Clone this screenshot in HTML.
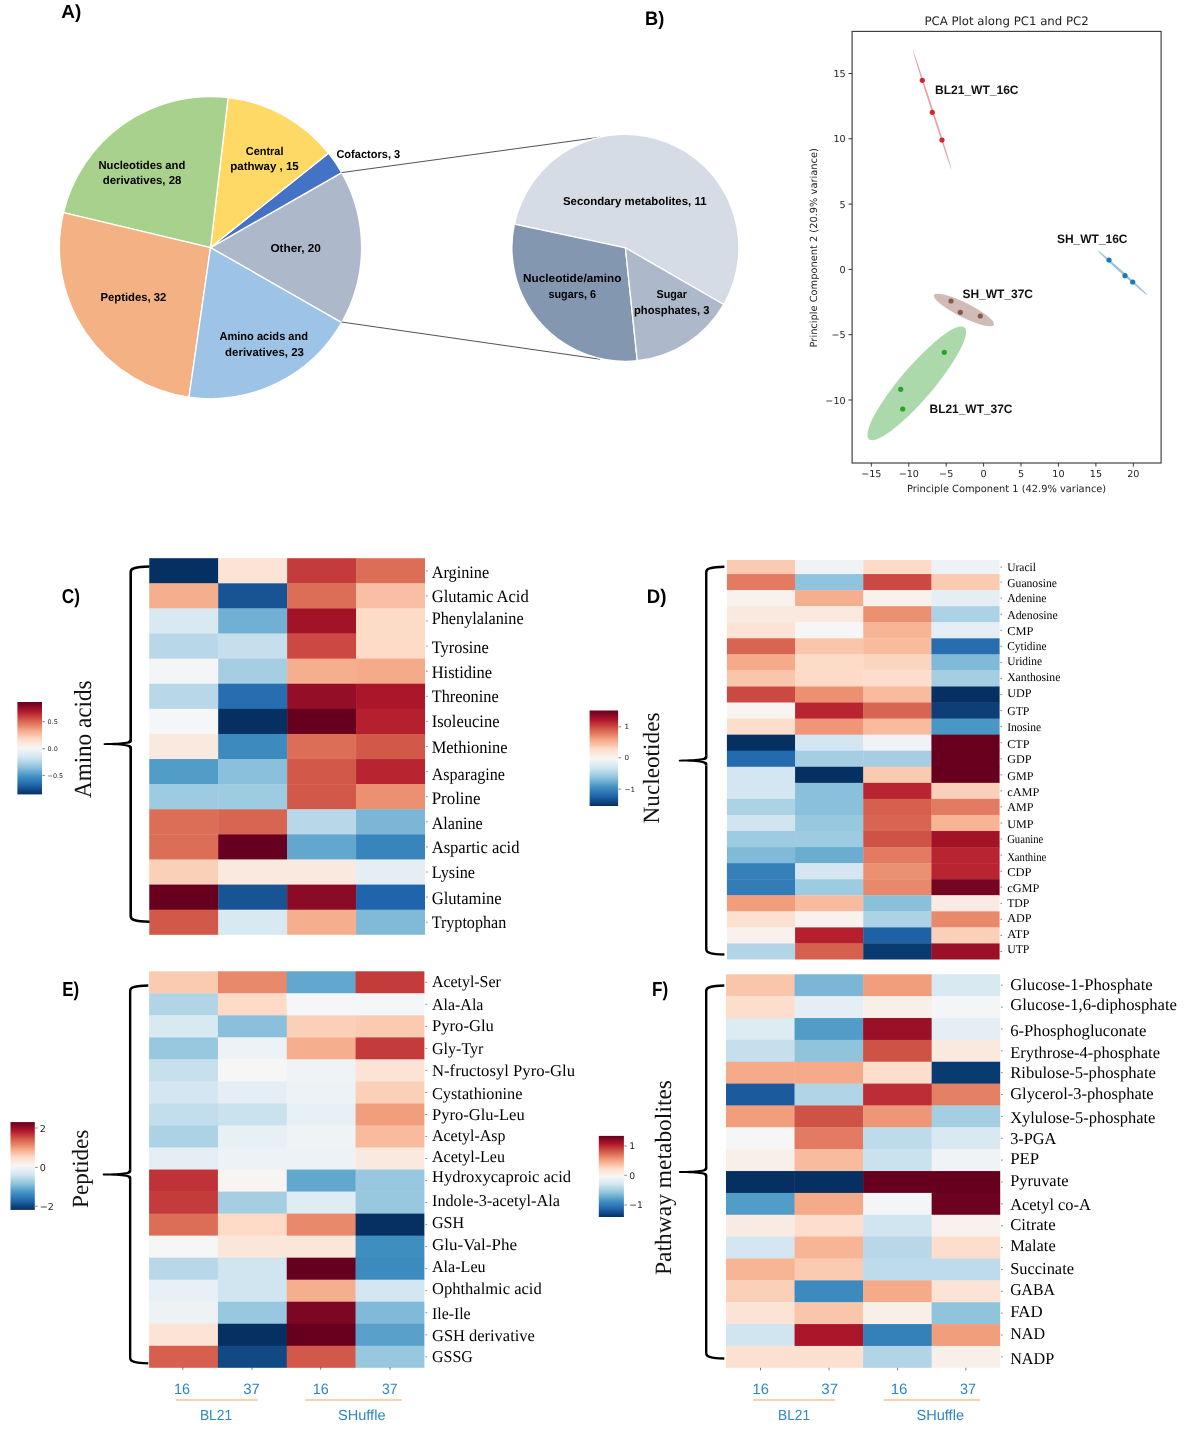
<!DOCTYPE html>
<html lang="en">
<head>
<meta charset="utf-8">
<title>Metabolomics figure</title>
<style>
html,body{margin:0;padding:0;background:#fff;}
body{width:1200px;height:1433px;overflow:hidden;font-family:'Liberation Sans',sans-serif;}
svg{display:block;will-change:transform;transform:translateZ(0);}
text{text-rendering:geometricPrecision;}
</style>
</head>
<body>
<svg width="1200" height="1433" viewBox="0 0 1200 1433">
<rect x="0" y="0" width="1200" height="1433" fill="#ffffff"/>
<g id="panelA">
<text x="61.3" y="17.8" font-family="'Liberation Sans', sans-serif" font-size="19" font-weight="bold" fill="#000" text-anchor="start" textLength="20.0" lengthAdjust="spacingAndGlyphs">A)</text>
<path d="M210.50,247.60 L341.68,322.58 A151.10,151.10 0 0 0 341.68,172.62 Z" fill="#adb9ca" stroke="#fff" stroke-width="1.3" stroke-linejoin="round"/>
<path d="M210.50,247.60 L341.68,172.62 A151.10,151.10 0 0 0 328.46,153.17 Z" fill="#4472c4" stroke="#fff" stroke-width="1.3" stroke-linejoin="round"/>
<path d="M210.50,247.60 L328.46,153.17 A151.10,151.10 0 0 0 228.11,97.53 Z" fill="#ffd966" stroke="#fff" stroke-width="1.3" stroke-linejoin="round"/>
<path d="M210.50,247.60 L228.11,97.53 A151.10,151.10 0 0 0 63.51,212.61 Z" fill="#a9d18e" stroke="#fff" stroke-width="1.3" stroke-linejoin="round"/>
<path d="M210.50,247.60 L63.51,212.61 A151.10,151.10 0 0 0 189.00,397.16 Z" fill="#f4b183" stroke="#fff" stroke-width="1.3" stroke-linejoin="round"/>
<path d="M210.50,247.60 L189.00,397.16 A151.10,151.10 0 0 0 341.68,322.58 Z" fill="#9dc3e6" stroke="#fff" stroke-width="1.3" stroke-linejoin="round"/>
<path d="M341.5,172.6 L600,137.2 M341.5,322.0 L600,359.2" stroke="#404040" stroke-width="0.9" fill="none"/>
<path d="M625.40,247.80 L723.69,304.55 A113.50,113.50 0 1 0 514.38,224.20 Z" fill="#d6dce5" stroke="#fff" stroke-width="1.3" stroke-linejoin="round"/>
<path d="M625.40,247.80 L514.38,224.20 A113.50,113.50 0 0 0 637.26,360.68 Z" fill="#8497b0" stroke="#fff" stroke-width="1.3" stroke-linejoin="round"/>
<path d="M625.40,247.80 L637.26,360.68 A113.50,113.50 0 0 0 723.69,304.55 Z" fill="#adb9ca" stroke="#fff" stroke-width="1.3" stroke-linejoin="round"/>
<text x="98.4" y="169.1" font-family="'Liberation Sans', sans-serif" font-size="11.5" font-weight="bold" fill="#000" text-anchor="start" textLength="87.0" lengthAdjust="spacingAndGlyphs">Nucleotides and</text>
<text x="102.7" y="184.4" font-family="'Liberation Sans', sans-serif" font-size="11.5" font-weight="bold" fill="#000" text-anchor="start" textLength="78.7" lengthAdjust="spacingAndGlyphs">derivatives, 28</text>
<text x="245.8" y="154.9" font-family="'Liberation Sans', sans-serif" font-size="11.5" font-weight="bold" fill="#000" text-anchor="start" textLength="37.7" lengthAdjust="spacingAndGlyphs">Central</text>
<text x="230.2" y="169.7" font-family="'Liberation Sans', sans-serif" font-size="11.5" font-weight="bold" fill="#000" text-anchor="start" textLength="68.6" lengthAdjust="spacingAndGlyphs">pathway , 15</text>
<text x="336.4" y="158.3" font-family="'Liberation Sans', sans-serif" font-size="11.5" font-weight="bold" fill="#000" text-anchor="start" textLength="63.8" lengthAdjust="spacingAndGlyphs">Cofactors, 3</text>
<text x="270.4" y="251.8" font-family="'Liberation Sans', sans-serif" font-size="11.5" font-weight="bold" fill="#000" text-anchor="start" textLength="50.5" lengthAdjust="spacingAndGlyphs">Other, 20</text>
<text x="100.4" y="301.4" font-family="'Liberation Sans', sans-serif" font-size="11.5" font-weight="bold" fill="#000" text-anchor="start" textLength="66.0" lengthAdjust="spacingAndGlyphs">Peptides, 32</text>
<text x="219.4" y="339.7" font-family="'Liberation Sans', sans-serif" font-size="11.5" font-weight="bold" fill="#000" text-anchor="start" textLength="88.7" lengthAdjust="spacingAndGlyphs">Amino acids and</text>
<text x="225.1" y="355.8" font-family="'Liberation Sans', sans-serif" font-size="11.5" font-weight="bold" fill="#000" text-anchor="start" textLength="78.8" lengthAdjust="spacingAndGlyphs">derivatives, 23</text>
<text x="563.0" y="204.5" font-family="'Liberation Sans', sans-serif" font-size="11.5" font-weight="bold" fill="#000" text-anchor="start" textLength="143.5" lengthAdjust="spacingAndGlyphs">Secondary metabolites, 11</text>
<text x="523.0" y="281.5" font-family="'Liberation Sans', sans-serif" font-size="11.5" font-weight="bold" fill="#000" text-anchor="start" textLength="98.5" lengthAdjust="spacingAndGlyphs">Nucleotide/amino</text>
<text x="548.5" y="298.0" font-family="'Liberation Sans', sans-serif" font-size="11.5" font-weight="bold" fill="#000" text-anchor="start" textLength="47.5" lengthAdjust="spacingAndGlyphs">sugars, 6</text>
<text x="656.5" y="298.0" font-family="'Liberation Sans', sans-serif" font-size="11.5" font-weight="bold" fill="#000" text-anchor="start" textLength="30.5" lengthAdjust="spacingAndGlyphs">Sugar</text>
<text x="634.0" y="313.5" font-family="'Liberation Sans', sans-serif" font-size="11.5" font-weight="bold" fill="#000" text-anchor="start" textLength="75.5" lengthAdjust="spacingAndGlyphs">phosphates, 3</text>
</g>
<g id="panelB">
<text x="645.0" y="24.5" font-family="'Liberation Sans', sans-serif" font-size="19.5" font-weight="bold" fill="#000" text-anchor="start" textLength="19.2" lengthAdjust="spacingAndGlyphs">B)</text>
<g clip-path="none">
<ellipse cx="916.8" cy="383.3" rx="73.5" ry="16.3" transform="rotate(-49.5 916.8 383.3)" fill="#2ca02c" fill-opacity="0.40"/>
<ellipse cx="964.0" cy="310.0" rx="33.5" ry="7.2" transform="rotate(26.5 964.0 310.0)" fill="#8c564b" fill-opacity="0.40"/>
<ellipse cx="932.3" cy="110.3" rx="62" ry="0.9" transform="rotate(72.0 932.3 110.3)" fill="#d62728" fill-opacity="0.45"/>
<ellipse cx="1122.5" cy="272.8" rx="33" ry="1.2" transform="rotate(42.0 1122.5 272.8)" fill="#1f77b4" fill-opacity="0.45"/>
</g>
<circle cx="922.3" cy="80.3" r="2.6" fill="#d62728"/>
<circle cx="932.3" cy="112.3" r="2.6" fill="#d62728"/>
<circle cx="942.0" cy="140.0" r="2.6" fill="#d62728"/>
<circle cx="1109.0" cy="260.0" r="2.6" fill="#1f77b4"/>
<circle cx="1125.0" cy="275.7" r="2.6" fill="#1f77b4"/>
<circle cx="1132.7" cy="282.0" r="2.6" fill="#1f77b4"/>
<circle cx="951.0" cy="301.0" r="2.6" fill="#8c564b"/>
<circle cx="960.3" cy="312.3" r="2.6" fill="#8c564b"/>
<circle cx="980.3" cy="316.0" r="2.6" fill="#8c564b"/>
<circle cx="944.3" cy="352.3" r="2.6" fill="#2ca02c"/>
<circle cx="900.7" cy="389.3" r="2.6" fill="#2ca02c"/>
<circle cx="902.7" cy="409.0" r="2.6" fill="#2ca02c"/>
<rect x="852.1" y="31.4" width="309.0" height="431.6" fill="none" stroke="#3c3c3c" stroke-width="1.15"/>
<line x1="871.3" y1="463.0" x2="871.3" y2="466.6" stroke="#222" stroke-width="0.9"/>
<text x="871.3" y="477.2" font-family="'DejaVu Sans', sans-serif" font-size="9.6" font-weight="normal" fill="#222" text-anchor="middle">−15</text>
<line x1="908.8" y1="463.0" x2="908.8" y2="466.6" stroke="#222" stroke-width="0.9"/>
<text x="908.8" y="477.2" font-family="'DejaVu Sans', sans-serif" font-size="9.6" font-weight="normal" fill="#222" text-anchor="middle">−10</text>
<line x1="946.2" y1="463.0" x2="946.2" y2="466.6" stroke="#222" stroke-width="0.9"/>
<text x="946.2" y="477.2" font-family="'DejaVu Sans', sans-serif" font-size="9.6" font-weight="normal" fill="#222" text-anchor="middle">−5</text>
<line x1="983.6" y1="463.0" x2="983.6" y2="466.6" stroke="#222" stroke-width="0.9"/>
<text x="983.6" y="477.2" font-family="'DejaVu Sans', sans-serif" font-size="9.6" font-weight="normal" fill="#222" text-anchor="middle">0</text>
<line x1="1021.0" y1="463.0" x2="1021.0" y2="466.6" stroke="#222" stroke-width="0.9"/>
<text x="1021.0" y="477.2" font-family="'DejaVu Sans', sans-serif" font-size="9.6" font-weight="normal" fill="#222" text-anchor="middle">5</text>
<line x1="1058.4" y1="463.0" x2="1058.4" y2="466.6" stroke="#222" stroke-width="0.9"/>
<text x="1058.4" y="477.2" font-family="'DejaVu Sans', sans-serif" font-size="9.6" font-weight="normal" fill="#222" text-anchor="middle">10</text>
<line x1="1095.9" y1="463.0" x2="1095.9" y2="466.6" stroke="#222" stroke-width="0.9"/>
<text x="1095.9" y="477.2" font-family="'DejaVu Sans', sans-serif" font-size="9.6" font-weight="normal" fill="#222" text-anchor="middle">15</text>
<line x1="1133.3" y1="463.0" x2="1133.3" y2="466.6" stroke="#222" stroke-width="0.9"/>
<text x="1133.3" y="477.2" font-family="'DejaVu Sans', sans-serif" font-size="9.6" font-weight="normal" fill="#222" text-anchor="middle">20</text>
<line x1="848.5" y1="400.0" x2="852.1" y2="400.0" stroke="#222" stroke-width="0.9"/>
<text x="845.6" y="403.6" font-family="'DejaVu Sans', sans-serif" font-size="9.6" font-weight="normal" fill="#222" text-anchor="end">−10</text>
<line x1="848.5" y1="334.7" x2="852.1" y2="334.7" stroke="#222" stroke-width="0.9"/>
<text x="845.6" y="338.3" font-family="'DejaVu Sans', sans-serif" font-size="9.6" font-weight="normal" fill="#222" text-anchor="end">−5</text>
<line x1="848.5" y1="269.4" x2="852.1" y2="269.4" stroke="#222" stroke-width="0.9"/>
<text x="845.6" y="273.0" font-family="'DejaVu Sans', sans-serif" font-size="9.6" font-weight="normal" fill="#222" text-anchor="end">0</text>
<line x1="848.5" y1="204.1" x2="852.1" y2="204.1" stroke="#222" stroke-width="0.9"/>
<text x="845.6" y="207.7" font-family="'DejaVu Sans', sans-serif" font-size="9.6" font-weight="normal" fill="#222" text-anchor="end">5</text>
<line x1="848.5" y1="138.8" x2="852.1" y2="138.8" stroke="#222" stroke-width="0.9"/>
<text x="845.6" y="142.4" font-family="'DejaVu Sans', sans-serif" font-size="9.6" font-weight="normal" fill="#222" text-anchor="end">10</text>
<line x1="848.5" y1="73.5" x2="852.1" y2="73.5" stroke="#222" stroke-width="0.9"/>
<text x="845.6" y="77.1" font-family="'DejaVu Sans', sans-serif" font-size="9.6" font-weight="normal" fill="#222" text-anchor="end">15</text>
<text x="1006.6" y="25.0" font-family="'DejaVu Sans', sans-serif" font-size="11.75" font-weight="normal" fill="#222" text-anchor="middle">PCA Plot along PC1 and PC2</text>
<text x="1006.6" y="491.5" font-family="'DejaVu Sans', sans-serif" font-size="9.86" font-weight="normal" fill="#222" text-anchor="middle">Principle Component 1 (42.9% variance)</text>
<text transform="translate(817.2 247.8) rotate(-90)" font-family="'DejaVu Sans', sans-serif" font-size="9.86" fill="#222" text-anchor="middle">Principle Component 2 (20.9% variance)</text>
<text x="935.0" y="93.5" font-family="'Liberation Sans', sans-serif" font-size="12.2" font-weight="bold" fill="#111" text-anchor="start" textLength="83.5" lengthAdjust="spacingAndGlyphs">BL21_WT_16C</text>
<text x="1057.0" y="243.0" font-family="'Liberation Sans', sans-serif" font-size="12.2" font-weight="bold" fill="#111" text-anchor="start" textLength="70.5" lengthAdjust="spacingAndGlyphs">SH_WT_16C</text>
<text x="962.5" y="297.5" font-family="'Liberation Sans', sans-serif" font-size="12.2" font-weight="bold" fill="#111" text-anchor="start" textLength="70.5" lengthAdjust="spacingAndGlyphs">SH_WT_37C</text>
<text x="929.5" y="413.0" font-family="'Liberation Sans', sans-serif" font-size="12.2" font-weight="bold" fill="#111" text-anchor="start" textLength="83.0" lengthAdjust="spacingAndGlyphs">BL21_WT_37C</text>
</g>
<g id="panelC">
<g>
<rect x="149.26" y="558.20" width="69.28" height="25.46" fill="#053061"/>
<rect x="218.19" y="558.20" width="69.28" height="25.46" fill="#fbe4d6"/>
<rect x="287.13" y="558.20" width="69.28" height="25.46" fill="#c43b3c"/>
<rect x="356.06" y="558.20" width="68.94" height="25.46" fill="#dc6e57"/>
<rect x="149.26" y="583.31" width="69.28" height="25.46" fill="#f6af8e"/>
<rect x="218.19" y="583.31" width="69.28" height="25.46" fill="#185493"/>
<rect x="287.13" y="583.31" width="69.28" height="25.46" fill="#dc6e57"/>
<rect x="356.06" y="583.31" width="68.94" height="25.46" fill="#f8bfa4"/>
<rect x="149.26" y="608.41" width="69.28" height="25.46" fill="#d8e9f1"/>
<rect x="218.19" y="608.41" width="69.28" height="25.46" fill="#71b0d3"/>
<rect x="287.13" y="608.41" width="69.28" height="25.46" fill="#a21328"/>
<rect x="356.06" y="608.41" width="68.94" height="25.46" fill="#fddbc7"/>
<rect x="149.26" y="633.52" width="69.28" height="25.46" fill="#b8d8e9"/>
<rect x="218.19" y="633.52" width="69.28" height="25.46" fill="#c5dfec"/>
<rect x="287.13" y="633.52" width="69.28" height="25.46" fill="#cb4942"/>
<rect x="356.06" y="633.52" width="68.94" height="25.46" fill="#fddbc7"/>
<rect x="149.26" y="658.63" width="69.28" height="25.46" fill="#f3f5f6"/>
<rect x="218.19" y="658.63" width="69.28" height="25.46" fill="#a5cee3"/>
<rect x="287.13" y="658.63" width="69.28" height="25.46" fill="#f6af8e"/>
<rect x="356.06" y="658.63" width="68.94" height="25.46" fill="#f5aa89"/>
<rect x="149.26" y="683.73" width="69.28" height="25.46" fill="#b8d8e9"/>
<rect x="218.19" y="683.73" width="69.28" height="25.46" fill="#276eb0"/>
<rect x="287.13" y="683.73" width="69.28" height="25.46" fill="#930e26"/>
<rect x="356.06" y="683.73" width="68.94" height="25.46" fill="#ab162a"/>
<rect x="149.26" y="708.84" width="69.28" height="25.46" fill="#f5f6f7"/>
<rect x="218.19" y="708.84" width="69.28" height="25.46" fill="#053061"/>
<rect x="287.13" y="708.84" width="69.28" height="25.46" fill="#67001f"/>
<rect x="356.06" y="708.84" width="68.94" height="25.46" fill="#b61f2e"/>
<rect x="149.26" y="733.95" width="69.28" height="25.46" fill="#fae9df"/>
<rect x="218.19" y="733.95" width="69.28" height="25.46" fill="#3c8abe"/>
<rect x="287.13" y="733.95" width="69.28" height="25.46" fill="#dc6e57"/>
<rect x="356.06" y="733.95" width="68.94" height="25.46" fill="#d25849"/>
<rect x="149.26" y="759.05" width="69.28" height="25.46" fill="#529dc8"/>
<rect x="218.19" y="759.05" width="69.28" height="25.46" fill="#8ac0db"/>
<rect x="287.13" y="759.05" width="69.28" height="25.46" fill="#d25849"/>
<rect x="356.06" y="759.05" width="68.94" height="25.46" fill="#b82531"/>
<rect x="149.26" y="784.16" width="69.28" height="25.46" fill="#9dcbe1"/>
<rect x="218.19" y="784.16" width="69.28" height="25.46" fill="#9dcbe1"/>
<rect x="287.13" y="784.16" width="69.28" height="25.46" fill="#d25849"/>
<rect x="356.06" y="784.16" width="68.94" height="25.46" fill="#eb9172"/>
<rect x="149.26" y="809.27" width="69.28" height="25.46" fill="#dc6e57"/>
<rect x="218.19" y="809.27" width="69.28" height="25.46" fill="#d86551"/>
<rect x="287.13" y="809.27" width="69.28" height="25.46" fill="#b8d8e9"/>
<rect x="356.06" y="809.27" width="68.94" height="25.46" fill="#7bb6d6"/>
<rect x="149.26" y="834.37" width="69.28" height="25.46" fill="#dc6e57"/>
<rect x="218.19" y="834.37" width="69.28" height="25.46" fill="#67001f"/>
<rect x="287.13" y="834.37" width="69.28" height="25.46" fill="#62a7ce"/>
<rect x="356.06" y="834.37" width="68.94" height="25.46" fill="#3885bc"/>
<rect x="149.26" y="859.48" width="69.28" height="25.46" fill="#fbd0b9"/>
<rect x="218.19" y="859.48" width="69.28" height="25.46" fill="#fae9df"/>
<rect x="287.13" y="859.48" width="69.28" height="25.46" fill="#fae9df"/>
<rect x="356.06" y="859.48" width="68.94" height="25.46" fill="#e4eef4"/>
<rect x="149.26" y="884.59" width="69.28" height="25.46" fill="#67001f"/>
<rect x="218.19" y="884.59" width="69.28" height="25.46" fill="#185493"/>
<rect x="287.13" y="884.59" width="69.28" height="25.46" fill="#8a0b25"/>
<rect x="356.06" y="884.59" width="68.94" height="25.46" fill="#2065ab"/>
<rect x="149.26" y="909.69" width="69.28" height="25.11" fill="#d25849"/>
<rect x="218.19" y="909.69" width="69.28" height="25.11" fill="#d8e9f1"/>
<rect x="287.13" y="909.69" width="69.28" height="25.11" fill="#f6af8e"/>
<rect x="356.06" y="909.69" width="68.94" height="25.11" fill="#81bad8"/>
</g>
<text x="431.7" y="577.5" font-family="'Liberation Serif', serif" font-size="17.6" font-weight="normal" fill="#000" text-anchor="start" textLength="57.5" lengthAdjust="spacingAndGlyphs">Arginine</text>
<line x1="426.0" y1="570.8" x2="427.7" y2="570.8" stroke="#555" stroke-width="0.7"/>
<text x="431.7" y="601.7" font-family="'Liberation Serif', serif" font-size="17.6" font-weight="normal" fill="#000" text-anchor="start" textLength="97.0" lengthAdjust="spacingAndGlyphs">Glutamic Acid</text>
<line x1="426.0" y1="595.9" x2="427.7" y2="595.9" stroke="#555" stroke-width="0.7"/>
<text x="431.7" y="624.2" font-family="'Liberation Serif', serif" font-size="17.6" font-weight="normal" fill="#000" text-anchor="start" textLength="92.0" lengthAdjust="spacingAndGlyphs">Phenylalanine</text>
<line x1="426.0" y1="621.0" x2="427.7" y2="621.0" stroke="#555" stroke-width="0.7"/>
<text x="431.7" y="652.8" font-family="'Liberation Serif', serif" font-size="17.6" font-weight="normal" fill="#000" text-anchor="start" textLength="57.1" lengthAdjust="spacingAndGlyphs">Tyrosine</text>
<line x1="426.0" y1="646.1" x2="427.7" y2="646.1" stroke="#555" stroke-width="0.7"/>
<text x="431.7" y="677.5" font-family="'Liberation Serif', serif" font-size="17.6" font-weight="normal" fill="#000" text-anchor="start" textLength="60.5" lengthAdjust="spacingAndGlyphs">Histidine</text>
<line x1="426.0" y1="671.2" x2="427.7" y2="671.2" stroke="#555" stroke-width="0.7"/>
<text x="431.7" y="702.0" font-family="'Liberation Serif', serif" font-size="17.6" font-weight="normal" fill="#000" text-anchor="start" textLength="67.0" lengthAdjust="spacingAndGlyphs">Threonine</text>
<line x1="426.0" y1="696.3" x2="427.7" y2="696.3" stroke="#555" stroke-width="0.7"/>
<text x="431.7" y="726.7" font-family="'Liberation Serif', serif" font-size="17.6" font-weight="normal" fill="#000" text-anchor="start" textLength="67.8" lengthAdjust="spacingAndGlyphs">Isoleucine</text>
<line x1="426.0" y1="721.4" x2="427.7" y2="721.4" stroke="#555" stroke-width="0.7"/>
<text x="431.7" y="752.8" font-family="'Liberation Serif', serif" font-size="17.6" font-weight="normal" fill="#000" text-anchor="start" textLength="75.8" lengthAdjust="spacingAndGlyphs">Methionine</text>
<line x1="426.0" y1="746.5" x2="427.7" y2="746.5" stroke="#555" stroke-width="0.7"/>
<text x="431.7" y="779.5" font-family="'Liberation Serif', serif" font-size="17.6" font-weight="normal" fill="#000" text-anchor="start" textLength="73.3" lengthAdjust="spacingAndGlyphs">Asparagine</text>
<line x1="426.0" y1="771.6" x2="427.7" y2="771.6" stroke="#555" stroke-width="0.7"/>
<text x="431.7" y="804.2" font-family="'Liberation Serif', serif" font-size="17.6" font-weight="normal" fill="#000" text-anchor="start" textLength="48.8" lengthAdjust="spacingAndGlyphs">Proline</text>
<line x1="426.0" y1="796.7" x2="427.7" y2="796.7" stroke="#555" stroke-width="0.7"/>
<text x="431.7" y="828.7" font-family="'Liberation Serif', serif" font-size="17.6" font-weight="normal" fill="#000" text-anchor="start" textLength="51.1" lengthAdjust="spacingAndGlyphs">Alanine</text>
<line x1="426.0" y1="821.8" x2="427.7" y2="821.8" stroke="#555" stroke-width="0.7"/>
<text x="431.7" y="853.3" font-family="'Liberation Serif', serif" font-size="17.6" font-weight="normal" fill="#000" text-anchor="start" textLength="87.8" lengthAdjust="spacingAndGlyphs">Aspartic acid</text>
<line x1="426.0" y1="846.9" x2="427.7" y2="846.9" stroke="#555" stroke-width="0.7"/>
<text x="431.7" y="877.8" font-family="'Liberation Serif', serif" font-size="17.6" font-weight="normal" fill="#000" text-anchor="start" textLength="43.3" lengthAdjust="spacingAndGlyphs">Lysine</text>
<line x1="426.0" y1="872.0" x2="427.7" y2="872.0" stroke="#555" stroke-width="0.7"/>
<text x="431.7" y="903.7" font-family="'Liberation Serif', serif" font-size="17.6" font-weight="normal" fill="#000" text-anchor="start" textLength="70.0" lengthAdjust="spacingAndGlyphs">Glutamine</text>
<line x1="426.0" y1="897.1" x2="427.7" y2="897.1" stroke="#555" stroke-width="0.7"/>
<text x="431.7" y="928.3" font-family="'Liberation Serif', serif" font-size="17.6" font-weight="normal" fill="#000" text-anchor="start" textLength="74.5" lengthAdjust="spacingAndGlyphs">Tryptophan</text>
<line x1="426.0" y1="922.2" x2="427.7" y2="922.2" stroke="#555" stroke-width="0.7"/>
<text x="61.8" y="603.2" font-family="'Liberation Sans', sans-serif" font-size="20.2" font-weight="bold" fill="#000" text-anchor="start" textLength="18.2" lengthAdjust="spacingAndGlyphs">C)</text>
<defs><linearGradient id="gC" x1="0" y1="0" x2="0" y2="1"><stop offset="0.00" stop-color="#67001f"/><stop offset="0.05" stop-color="#8a0b25"/><stop offset="0.10" stop-color="#b1182b"/><stop offset="0.15" stop-color="#c43b3c"/><stop offset="0.20" stop-color="#d6604d"/><stop offset="0.25" stop-color="#e48066"/><stop offset="0.30" stop-color="#f3a481"/><stop offset="0.35" stop-color="#f8bfa4"/><stop offset="0.40" stop-color="#fddbc7"/><stop offset="0.45" stop-color="#fae9df"/><stop offset="0.50" stop-color="#f7f6f6"/><stop offset="0.55" stop-color="#e4eef4"/><stop offset="0.60" stop-color="#d1e5f0"/><stop offset="0.65" stop-color="#b1d5e7"/><stop offset="0.70" stop-color="#90c4dd"/><stop offset="0.75" stop-color="#6bacd1"/><stop offset="0.80" stop-color="#4393c3"/><stop offset="0.85" stop-color="#327cb7"/><stop offset="0.90" stop-color="#2065ab"/><stop offset="0.95" stop-color="#124984"/><stop offset="1.00" stop-color="#053061"/></linearGradient></defs>
<rect x="17.4" y="702.0" width="24.6" height="92.4" fill="url(#gC)"/>
<line x1="42.4" y1="721.7" x2="44.9" y2="721.7" stroke="#333" stroke-width="0.6"/>
<text x="47.6" y="724.0" font-family="'DejaVu Sans', sans-serif" font-size="6.4" font-weight="normal" fill="#222" text-anchor="start">0.5</text>
<line x1="42.4" y1="748.7" x2="44.9" y2="748.7" stroke="#333" stroke-width="0.6"/>
<text x="47.6" y="751.0" font-family="'DejaVu Sans', sans-serif" font-size="6.4" font-weight="normal" fill="#222" text-anchor="start">0.0</text>
<line x1="42.4" y1="775.4" x2="44.9" y2="775.4" stroke="#333" stroke-width="0.6"/>
<text x="47.6" y="777.7" font-family="'DejaVu Sans', sans-serif" font-size="6.4" font-weight="normal" fill="#222" text-anchor="start">−0.5</text>
<text transform="translate(90.5 739.3) rotate(-90)" font-family="'Liberation Serif', serif" font-size="24.6" fill="#111" text-anchor="middle" textLength="117.5" lengthAdjust="spacingAndGlyphs">Amino acids</text>
<path d="M149.50,566.50 C143.50,566.60 137.70,567.10 134.10,568.20 Q130.70,569.10 130.70,572.10 L130.70,739.30 M130.70,748.90 L130.70,916.10 Q130.70,919.10 134.10,920.00 C137.70,921.10 143.50,921.60 149.50,921.70" fill="none" stroke="#000" stroke-width="2.6" stroke-linecap="butt" stroke-linejoin="round"/>
<path d="M129.40,739.10 Q129.40,741.40 126.30,741.80 C121.70,742.60 113.70,743.05 104.40,743.15 Q103.50,743.20 103.50,744.10 Q103.50,745.00 104.40,745.05 C113.70,745.15 121.70,745.60 126.30,746.40 Q129.40,746.80 129.40,749.10 L132.00,749.10 L132.00,747.30 Q131.90,745.00 127.50,744.40 L124.20,744.10 L127.50,743.80 Q131.90,743.20 132.00,740.90 L132.00,739.10 Z" fill="#000" stroke="none"/>
</g>
<g id="panelD">
<g>
<rect x="726.90" y="560.05" width="68.53" height="14.36" fill="#facab1"/>
<rect x="795.08" y="560.05" width="68.53" height="14.36" fill="#eff3f5"/>
<rect x="863.25" y="560.05" width="68.53" height="14.36" fill="#fddbc7"/>
<rect x="931.42" y="560.05" width="68.18" height="14.36" fill="#ecf2f5"/>
<rect x="726.90" y="574.06" width="68.53" height="16.41" fill="#e27b62"/>
<rect x="795.08" y="574.06" width="68.53" height="16.41" fill="#90c4dd"/>
<rect x="863.25" y="574.06" width="68.53" height="16.41" fill="#cb4942"/>
<rect x="931.42" y="574.06" width="68.18" height="16.41" fill="#facab1"/>
<rect x="726.90" y="590.12" width="68.53" height="16.41" fill="#f8f1ed"/>
<rect x="795.08" y="590.12" width="68.53" height="16.41" fill="#f6af8e"/>
<rect x="863.25" y="590.12" width="68.53" height="16.41" fill="#f8f1ed"/>
<rect x="931.42" y="590.12" width="68.18" height="16.41" fill="#e4eef4"/>
<rect x="726.90" y="606.18" width="68.53" height="16.41" fill="#fae9df"/>
<rect x="795.08" y="606.18" width="68.53" height="16.41" fill="#fae9df"/>
<rect x="863.25" y="606.18" width="68.53" height="16.41" fill="#eb9172"/>
<rect x="931.42" y="606.18" width="68.18" height="16.41" fill="#acd2e5"/>
<rect x="726.90" y="622.24" width="68.53" height="16.41" fill="#fbe4d6"/>
<rect x="795.08" y="622.24" width="68.53" height="16.41" fill="#f7f6f6"/>
<rect x="863.25" y="622.24" width="68.53" height="16.41" fill="#f7b596"/>
<rect x="931.42" y="622.24" width="68.18" height="16.41" fill="#e4eef4"/>
<rect x="726.90" y="638.30" width="68.53" height="16.41" fill="#d86551"/>
<rect x="795.08" y="638.30" width="68.53" height="16.41" fill="#f9c6ac"/>
<rect x="863.25" y="638.30" width="68.53" height="16.41" fill="#f8bb9e"/>
<rect x="931.42" y="638.30" width="68.18" height="16.41" fill="#276eb0"/>
<rect x="726.90" y="654.36" width="68.53" height="16.41" fill="#f5aa89"/>
<rect x="795.08" y="654.36" width="68.53" height="16.41" fill="#fddbc7"/>
<rect x="863.25" y="654.36" width="68.53" height="16.41" fill="#fcd5bf"/>
<rect x="931.42" y="654.36" width="68.18" height="16.41" fill="#81bad8"/>
<rect x="726.90" y="670.42" width="68.53" height="16.41" fill="#f9c6ac"/>
<rect x="795.08" y="670.42" width="68.53" height="16.41" fill="#fddbc7"/>
<rect x="863.25" y="670.42" width="68.53" height="16.41" fill="#fdddcb"/>
<rect x="931.42" y="670.42" width="68.18" height="16.41" fill="#a5cee3"/>
<rect x="726.90" y="686.48" width="68.53" height="16.41" fill="#cb4942"/>
<rect x="795.08" y="686.48" width="68.53" height="16.41" fill="#eb9172"/>
<rect x="863.25" y="686.48" width="68.53" height="16.41" fill="#f8bb9e"/>
<rect x="931.42" y="686.48" width="68.18" height="16.41" fill="#053061"/>
<rect x="726.90" y="702.54" width="68.53" height="16.41" fill="#f8f4f2"/>
<rect x="795.08" y="702.54" width="68.53" height="16.41" fill="#b82531"/>
<rect x="863.25" y="702.54" width="68.53" height="16.41" fill="#d86551"/>
<rect x="931.42" y="702.54" width="68.18" height="16.41" fill="#0d3f76"/>
<rect x="726.90" y="718.60" width="68.53" height="16.41" fill="#fdddcb"/>
<rect x="795.08" y="718.60" width="68.53" height="16.41" fill="#ee9677"/>
<rect x="863.25" y="718.60" width="68.53" height="16.41" fill="#f8bb9e"/>
<rect x="931.42" y="718.60" width="68.18" height="16.41" fill="#4997c5"/>
<rect x="726.90" y="734.66" width="68.53" height="16.41" fill="#053061"/>
<rect x="795.08" y="734.66" width="68.53" height="16.41" fill="#d4e6f1"/>
<rect x="863.25" y="734.66" width="68.53" height="16.41" fill="#eff3f5"/>
<rect x="931.42" y="734.66" width="68.18" height="16.41" fill="#67001f"/>
<rect x="726.90" y="750.72" width="68.53" height="16.41" fill="#246aae"/>
<rect x="795.08" y="750.72" width="68.53" height="16.41" fill="#a5cee3"/>
<rect x="863.25" y="750.72" width="68.53" height="16.41" fill="#a5cee3"/>
<rect x="931.42" y="750.72" width="68.18" height="16.41" fill="#67001f"/>
<rect x="726.90" y="766.78" width="68.53" height="16.41" fill="#d4e6f1"/>
<rect x="795.08" y="766.78" width="68.53" height="16.41" fill="#053061"/>
<rect x="863.25" y="766.78" width="68.53" height="16.41" fill="#facab1"/>
<rect x="931.42" y="766.78" width="68.18" height="16.41" fill="#67001f"/>
<rect x="726.90" y="782.84" width="68.53" height="16.41" fill="#d4e6f1"/>
<rect x="795.08" y="782.84" width="68.53" height="16.41" fill="#8ac0db"/>
<rect x="863.25" y="782.84" width="68.53" height="16.41" fill="#b82531"/>
<rect x="931.42" y="782.84" width="68.18" height="16.41" fill="#fbd0b9"/>
<rect x="726.90" y="798.90" width="68.53" height="16.41" fill="#acd2e5"/>
<rect x="795.08" y="798.90" width="68.53" height="16.41" fill="#8ac0db"/>
<rect x="863.25" y="798.90" width="68.53" height="16.41" fill="#d6604d"/>
<rect x="931.42" y="798.90" width="68.18" height="16.41" fill="#e27b62"/>
<rect x="726.90" y="814.96" width="68.53" height="16.41" fill="#d1e5f0"/>
<rect x="795.08" y="814.96" width="68.53" height="16.41" fill="#98c8e0"/>
<rect x="863.25" y="814.96" width="68.53" height="16.41" fill="#d86551"/>
<rect x="931.42" y="814.96" width="68.18" height="16.41" fill="#f7b596"/>
<rect x="726.90" y="831.02" width="68.53" height="16.41" fill="#9dcbe1"/>
<rect x="795.08" y="831.02" width="68.53" height="16.41" fill="#9dcbe1"/>
<rect x="863.25" y="831.02" width="68.53" height="16.41" fill="#cf5246"/>
<rect x="931.42" y="831.02" width="68.18" height="16.41" fill="#a21328"/>
<rect x="726.90" y="847.08" width="68.53" height="16.41" fill="#81bad8"/>
<rect x="795.08" y="847.08" width="68.53" height="16.41" fill="#6bacd1"/>
<rect x="863.25" y="847.08" width="68.53" height="16.41" fill="#e27b62"/>
<rect x="931.42" y="847.08" width="68.18" height="16.41" fill="#b82531"/>
<rect x="726.90" y="863.14" width="68.53" height="16.41" fill="#3480b9"/>
<rect x="795.08" y="863.14" width="68.53" height="16.41" fill="#d4e6f1"/>
<rect x="863.25" y="863.14" width="68.53" height="16.41" fill="#eb9172"/>
<rect x="931.42" y="863.14" width="68.18" height="16.41" fill="#b82531"/>
<rect x="726.90" y="879.20" width="68.53" height="16.41" fill="#327cb7"/>
<rect x="795.08" y="879.20" width="68.53" height="16.41" fill="#9dcbe1"/>
<rect x="863.25" y="879.20" width="68.53" height="16.41" fill="#e8896c"/>
<rect x="931.42" y="879.20" width="68.18" height="16.41" fill="#760521"/>
<rect x="726.90" y="895.26" width="68.53" height="16.41" fill="#f19e7d"/>
<rect x="795.08" y="895.26" width="68.53" height="16.41" fill="#f8bb9e"/>
<rect x="863.25" y="895.26" width="68.53" height="16.41" fill="#8ac0db"/>
<rect x="931.42" y="895.26" width="68.18" height="16.41" fill="#f9ebe3"/>
<rect x="726.90" y="911.32" width="68.53" height="16.41" fill="#fce0d0"/>
<rect x="795.08" y="911.32" width="68.53" height="16.41" fill="#f8f1ed"/>
<rect x="863.25" y="911.32" width="68.53" height="16.41" fill="#acd2e5"/>
<rect x="931.42" y="911.32" width="68.18" height="16.41" fill="#e8896c"/>
<rect x="726.90" y="927.38" width="68.53" height="16.41" fill="#f8f1ed"/>
<rect x="795.08" y="927.38" width="68.53" height="16.41" fill="#b61f2e"/>
<rect x="863.25" y="927.38" width="68.53" height="16.41" fill="#1e61a5"/>
<rect x="931.42" y="927.38" width="68.18" height="16.41" fill="#fbd0b9"/>
<rect x="726.90" y="943.44" width="68.53" height="16.06" fill="#b1d5e7"/>
<rect x="795.08" y="943.44" width="68.53" height="16.06" fill="#d6604d"/>
<rect x="863.25" y="943.44" width="68.53" height="16.06" fill="#0a3b70"/>
<rect x="931.42" y="943.44" width="68.18" height="16.06" fill="#991027"/>
</g>
<text x="1007.2" y="570.9" font-family="'Liberation Serif', serif" font-size="12.0" font-weight="normal" fill="#000" text-anchor="start" textLength="28.7" lengthAdjust="spacingAndGlyphs">Uracil</text>
<line x1="1000.4" y1="567.1" x2="1002.1" y2="567.1" stroke="#555" stroke-width="0.7"/>
<text x="1007.2" y="586.7" font-family="'Liberation Serif', serif" font-size="12.0" font-weight="normal" fill="#000" text-anchor="start" textLength="49.7" lengthAdjust="spacingAndGlyphs">Guanosine</text>
<line x1="1000.4" y1="582.1" x2="1002.1" y2="582.1" stroke="#555" stroke-width="0.7"/>
<text x="1007.2" y="602.3" font-family="'Liberation Serif', serif" font-size="12.0" font-weight="normal" fill="#000" text-anchor="start" textLength="39.3" lengthAdjust="spacingAndGlyphs">Adenine</text>
<line x1="1000.4" y1="598.1" x2="1002.1" y2="598.1" stroke="#555" stroke-width="0.7"/>
<text x="1007.2" y="619.4" font-family="'Liberation Serif', serif" font-size="12.0" font-weight="normal" fill="#000" text-anchor="start" textLength="50.5" lengthAdjust="spacingAndGlyphs">Adenosine</text>
<line x1="1000.4" y1="614.2" x2="1002.1" y2="614.2" stroke="#555" stroke-width="0.7"/>
<text x="1007.2" y="634.8" font-family="'Liberation Serif', serif" font-size="12.0" font-weight="normal" fill="#000" text-anchor="start" textLength="26.2" lengthAdjust="spacingAndGlyphs">CMP</text>
<line x1="1000.4" y1="630.3" x2="1002.1" y2="630.3" stroke="#555" stroke-width="0.7"/>
<text x="1007.2" y="649.7" font-family="'Liberation Serif', serif" font-size="12.0" font-weight="normal" fill="#000" text-anchor="start" textLength="39.3" lengthAdjust="spacingAndGlyphs">Cytidine</text>
<line x1="1000.4" y1="646.3" x2="1002.1" y2="646.3" stroke="#555" stroke-width="0.7"/>
<text x="1007.2" y="665.3" font-family="'Liberation Serif', serif" font-size="12.0" font-weight="normal" fill="#000" text-anchor="start" textLength="34.8" lengthAdjust="spacingAndGlyphs">Uridine</text>
<line x1="1000.4" y1="662.4" x2="1002.1" y2="662.4" stroke="#555" stroke-width="0.7"/>
<text x="1007.2" y="681.0" font-family="'Liberation Serif', serif" font-size="12.0" font-weight="normal" fill="#000" text-anchor="start" textLength="53.2" lengthAdjust="spacingAndGlyphs">Xanthosine</text>
<line x1="1000.4" y1="678.5" x2="1002.1" y2="678.5" stroke="#555" stroke-width="0.7"/>
<text x="1007.2" y="697.3" font-family="'Liberation Serif', serif" font-size="12.0" font-weight="normal" fill="#000" text-anchor="start" textLength="24.3" lengthAdjust="spacingAndGlyphs">UDP</text>
<line x1="1000.4" y1="694.5" x2="1002.1" y2="694.5" stroke="#555" stroke-width="0.7"/>
<text x="1007.2" y="714.8" font-family="'Liberation Serif', serif" font-size="12.0" font-weight="normal" fill="#000" text-anchor="start" textLength="22.2" lengthAdjust="spacingAndGlyphs">GTP</text>
<line x1="1000.4" y1="710.6" x2="1002.1" y2="710.6" stroke="#555" stroke-width="0.7"/>
<text x="1007.2" y="730.6" font-family="'Liberation Serif', serif" font-size="12.0" font-weight="normal" fill="#000" text-anchor="start" textLength="33.9" lengthAdjust="spacingAndGlyphs">Inosine</text>
<line x1="1000.4" y1="726.6" x2="1002.1" y2="726.6" stroke="#555" stroke-width="0.7"/>
<text x="1007.2" y="747.7" font-family="'Liberation Serif', serif" font-size="12.0" font-weight="normal" fill="#000" text-anchor="start" textLength="22.2" lengthAdjust="spacingAndGlyphs">CTP</text>
<line x1="1000.4" y1="742.7" x2="1002.1" y2="742.7" stroke="#555" stroke-width="0.7"/>
<text x="1007.2" y="762.9" font-family="'Liberation Serif', serif" font-size="12.0" font-weight="normal" fill="#000" text-anchor="start" textLength="24.3" lengthAdjust="spacingAndGlyphs">GDP</text>
<line x1="1000.4" y1="758.8" x2="1002.1" y2="758.8" stroke="#555" stroke-width="0.7"/>
<text x="1007.2" y="779.7" font-family="'Liberation Serif', serif" font-size="12.0" font-weight="normal" fill="#000" text-anchor="start" textLength="26.2" lengthAdjust="spacingAndGlyphs">GMP</text>
<line x1="1000.4" y1="774.8" x2="1002.1" y2="774.8" stroke="#555" stroke-width="0.7"/>
<text x="1007.2" y="795.8" font-family="'Liberation Serif', serif" font-size="12.0" font-weight="normal" fill="#000" text-anchor="start" textLength="32.2" lengthAdjust="spacingAndGlyphs">cAMP</text>
<line x1="1000.4" y1="790.9" x2="1002.1" y2="790.9" stroke="#555" stroke-width="0.7"/>
<text x="1007.2" y="811.2" font-family="'Liberation Serif', serif" font-size="12.0" font-weight="normal" fill="#000" text-anchor="start" textLength="26.2" lengthAdjust="spacingAndGlyphs">AMP</text>
<line x1="1000.4" y1="806.9" x2="1002.1" y2="806.9" stroke="#555" stroke-width="0.7"/>
<text x="1007.2" y="827.8" font-family="'Liberation Serif', serif" font-size="12.0" font-weight="normal" fill="#000" text-anchor="start" textLength="26.2" lengthAdjust="spacingAndGlyphs">UMP</text>
<line x1="1000.4" y1="823.0" x2="1002.1" y2="823.0" stroke="#555" stroke-width="0.7"/>
<text x="1007.2" y="843.4" font-family="'Liberation Serif', serif" font-size="12.0" font-weight="normal" fill="#000" text-anchor="start" textLength="36.0" lengthAdjust="spacingAndGlyphs">Guanine</text>
<line x1="1000.4" y1="839.0" x2="1002.1" y2="839.0" stroke="#555" stroke-width="0.7"/>
<text x="1007.2" y="861.1" font-family="'Liberation Serif', serif" font-size="12.0" font-weight="normal" fill="#000" text-anchor="start" textLength="39.0" lengthAdjust="spacingAndGlyphs">Xanthine</text>
<line x1="1000.4" y1="855.1" x2="1002.1" y2="855.1" stroke="#555" stroke-width="0.7"/>
<text x="1007.2" y="876.3" font-family="'Liberation Serif', serif" font-size="12.0" font-weight="normal" fill="#000" text-anchor="start" textLength="24.3" lengthAdjust="spacingAndGlyphs">CDP</text>
<line x1="1000.4" y1="871.2" x2="1002.1" y2="871.2" stroke="#555" stroke-width="0.7"/>
<text x="1007.2" y="891.7" font-family="'Liberation Serif', serif" font-size="12.0" font-weight="normal" fill="#000" text-anchor="start" textLength="32.2" lengthAdjust="spacingAndGlyphs">cGMP</text>
<line x1="1000.4" y1="887.2" x2="1002.1" y2="887.2" stroke="#555" stroke-width="0.7"/>
<text x="1007.2" y="906.6" font-family="'Liberation Serif', serif" font-size="12.0" font-weight="normal" fill="#000" text-anchor="start" textLength="22.2" lengthAdjust="spacingAndGlyphs">TDP</text>
<line x1="1000.4" y1="903.3" x2="1002.1" y2="903.3" stroke="#555" stroke-width="0.7"/>
<text x="1007.2" y="922.3" font-family="'Liberation Serif', serif" font-size="12.0" font-weight="normal" fill="#000" text-anchor="start" textLength="24.3" lengthAdjust="spacingAndGlyphs">ADP</text>
<line x1="1000.4" y1="919.3" x2="1002.1" y2="919.3" stroke="#555" stroke-width="0.7"/>
<text x="1007.2" y="937.9" font-family="'Liberation Serif', serif" font-size="12.0" font-weight="normal" fill="#000" text-anchor="start" textLength="22.2" lengthAdjust="spacingAndGlyphs">ATP</text>
<line x1="1000.4" y1="935.4" x2="1002.1" y2="935.4" stroke="#555" stroke-width="0.7"/>
<text x="1007.2" y="953.3" font-family="'Liberation Serif', serif" font-size="12.0" font-weight="normal" fill="#000" text-anchor="start" textLength="22.2" lengthAdjust="spacingAndGlyphs">UTP</text>
<line x1="1000.4" y1="951.5" x2="1002.1" y2="951.5" stroke="#555" stroke-width="0.7"/>
<text x="646.7" y="603.2" font-family="'Liberation Sans', sans-serif" font-size="19.8" font-weight="bold" fill="#000" text-anchor="start" textLength="19.7" lengthAdjust="spacingAndGlyphs">D)</text>
<defs><linearGradient id="gD" x1="0" y1="0" x2="0" y2="1"><stop offset="0.00" stop-color="#67001f"/><stop offset="0.05" stop-color="#8a0b25"/><stop offset="0.10" stop-color="#b1182b"/><stop offset="0.15" stop-color="#c43b3c"/><stop offset="0.20" stop-color="#d6604d"/><stop offset="0.25" stop-color="#e48066"/><stop offset="0.30" stop-color="#f3a481"/><stop offset="0.35" stop-color="#f8bfa4"/><stop offset="0.40" stop-color="#fddbc7"/><stop offset="0.45" stop-color="#fae9df"/><stop offset="0.50" stop-color="#f7f6f6"/><stop offset="0.55" stop-color="#e4eef4"/><stop offset="0.60" stop-color="#d1e5f0"/><stop offset="0.65" stop-color="#b1d5e7"/><stop offset="0.70" stop-color="#90c4dd"/><stop offset="0.75" stop-color="#6bacd1"/><stop offset="0.80" stop-color="#4393c3"/><stop offset="0.85" stop-color="#327cb7"/><stop offset="0.90" stop-color="#2065ab"/><stop offset="0.95" stop-color="#124984"/><stop offset="1.00" stop-color="#053061"/></linearGradient></defs>
<rect x="589.6" y="710.5" width="28.5" height="95.5" fill="url(#gD)"/>
<line x1="618.5" y1="726.8" x2="621.0" y2="726.8" stroke="#333" stroke-width="0.6"/>
<text x="624.6" y="729.4" font-family="'DejaVu Sans', sans-serif" font-size="7.2" font-weight="normal" fill="#222" text-anchor="start">1</text>
<line x1="618.5" y1="757.8" x2="621.0" y2="757.8" stroke="#333" stroke-width="0.6"/>
<text x="624.6" y="760.4" font-family="'DejaVu Sans', sans-serif" font-size="7.2" font-weight="normal" fill="#222" text-anchor="start">0</text>
<line x1="618.5" y1="789.2" x2="621.0" y2="789.2" stroke="#333" stroke-width="0.6"/>
<text x="624.6" y="791.8" font-family="'DejaVu Sans', sans-serif" font-size="7.2" font-weight="normal" fill="#222" text-anchor="start">−1</text>
<text transform="translate(659.2 768.0) rotate(-90)" font-family="'Liberation Serif', serif" font-size="23.3" fill="#111" text-anchor="middle" textLength="111.0" lengthAdjust="spacingAndGlyphs">Nucleotides</text>
<path d="M724.40,566.70 C718.40,566.80 713.25,567.30 709.65,568.40 Q706.25,569.30 706.25,572.30 L706.25,755.83 M706.25,765.42 L706.25,948.95 Q706.25,951.95 709.65,952.85 C713.25,953.95 718.40,954.45 724.40,954.55" fill="none" stroke="#000" stroke-width="2.4" stroke-linecap="butt" stroke-linejoin="round"/>
<path d="M705.05,755.62 Q705.05,757.92 701.85,758.33 C697.25,759.12 689.25,759.58 679.60,759.67 Q678.70,759.73 678.70,760.62 Q678.70,761.52 679.60,761.58 C689.25,761.67 697.25,762.12 701.85,762.92 Q705.05,763.33 705.05,765.62 L707.45,765.62 L707.45,763.83 Q707.35,761.52 703.05,760.92 L699.75,760.62 L703.05,760.33 Q707.35,759.73 707.45,757.42 L707.45,755.62 Z" fill="#000" stroke="none"/>
</g>
<g id="panelE">
<g>
<rect x="149.10" y="971.30" width="69.17" height="22.38" fill="#facab1"/>
<rect x="217.92" y="971.30" width="69.17" height="22.38" fill="#e8896c"/>
<rect x="286.75" y="971.30" width="69.17" height="22.38" fill="#62a7ce"/>
<rect x="355.57" y="971.30" width="68.82" height="22.38" fill="#c43b3c"/>
<rect x="149.10" y="993.33" width="69.17" height="22.38" fill="#b1d5e7"/>
<rect x="217.92" y="993.33" width="69.17" height="22.38" fill="#fddbc7"/>
<rect x="286.75" y="993.33" width="69.17" height="22.38" fill="#f5f6f7"/>
<rect x="355.57" y="993.33" width="68.82" height="22.38" fill="#f5f6f7"/>
<rect x="149.10" y="1015.36" width="69.17" height="22.38" fill="#d8e9f1"/>
<rect x="217.92" y="1015.36" width="69.17" height="22.38" fill="#8ac0db"/>
<rect x="286.75" y="1015.36" width="69.17" height="22.38" fill="#fbd0b9"/>
<rect x="355.57" y="1015.36" width="68.82" height="22.38" fill="#facab1"/>
<rect x="149.10" y="1037.38" width="69.17" height="22.38" fill="#98c8e0"/>
<rect x="217.92" y="1037.38" width="69.17" height="22.38" fill="#ecf2f5"/>
<rect x="286.75" y="1037.38" width="69.17" height="22.38" fill="#f6af8e"/>
<rect x="355.57" y="1037.38" width="68.82" height="22.38" fill="#c43b3c"/>
<rect x="149.10" y="1059.41" width="69.17" height="22.38" fill="#c7e0ed"/>
<rect x="217.92" y="1059.41" width="69.17" height="22.38" fill="#f7f6f6"/>
<rect x="286.75" y="1059.41" width="69.17" height="22.38" fill="#eff3f5"/>
<rect x="355.57" y="1059.41" width="68.82" height="22.38" fill="#fbe4d6"/>
<rect x="149.10" y="1081.44" width="69.17" height="22.38" fill="#d4e6f1"/>
<rect x="217.92" y="1081.44" width="69.17" height="22.38" fill="#e4eef4"/>
<rect x="286.75" y="1081.44" width="69.17" height="22.38" fill="#ecf2f5"/>
<rect x="355.57" y="1081.44" width="68.82" height="22.38" fill="#fbd0b9"/>
<rect x="149.10" y="1103.47" width="69.17" height="22.38" fill="#c2ddec"/>
<rect x="217.92" y="1103.47" width="69.17" height="22.38" fill="#cae1ee"/>
<rect x="286.75" y="1103.47" width="69.17" height="22.38" fill="#e7f0f4"/>
<rect x="355.57" y="1103.47" width="68.82" height="22.38" fill="#f19e7d"/>
<rect x="149.10" y="1125.49" width="69.17" height="22.38" fill="#acd2e5"/>
<rect x="217.92" y="1125.49" width="69.17" height="22.38" fill="#e7f0f4"/>
<rect x="286.75" y="1125.49" width="69.17" height="22.38" fill="#eff3f5"/>
<rect x="355.57" y="1125.49" width="68.82" height="22.38" fill="#f8bb9e"/>
<rect x="149.10" y="1147.52" width="69.17" height="22.38" fill="#e4eef4"/>
<rect x="217.92" y="1147.52" width="69.17" height="22.38" fill="#ecf2f5"/>
<rect x="286.75" y="1147.52" width="69.17" height="22.38" fill="#ecf2f5"/>
<rect x="355.57" y="1147.52" width="68.82" height="22.38" fill="#fae9df"/>
<rect x="149.10" y="1169.55" width="69.17" height="22.38" fill="#bf3338"/>
<rect x="217.92" y="1169.55" width="69.17" height="22.38" fill="#f8f4f2"/>
<rect x="286.75" y="1169.55" width="69.17" height="22.38" fill="#62a7ce"/>
<rect x="355.57" y="1169.55" width="68.82" height="22.38" fill="#98c8e0"/>
<rect x="149.10" y="1191.58" width="69.17" height="22.38" fill="#c43b3c"/>
<rect x="217.92" y="1191.58" width="69.17" height="22.38" fill="#a5cee3"/>
<rect x="286.75" y="1191.58" width="69.17" height="22.38" fill="#e0ecf3"/>
<rect x="355.57" y="1191.58" width="68.82" height="22.38" fill="#98c8e0"/>
<rect x="149.10" y="1213.61" width="69.17" height="22.38" fill="#dc6e57"/>
<rect x="217.92" y="1213.61" width="69.17" height="22.38" fill="#fddbc7"/>
<rect x="286.75" y="1213.61" width="69.17" height="22.38" fill="#e8896c"/>
<rect x="355.57" y="1213.61" width="68.82" height="22.38" fill="#053061"/>
<rect x="149.10" y="1235.63" width="69.17" height="22.38" fill="#f7f6f6"/>
<rect x="217.92" y="1235.63" width="69.17" height="22.38" fill="#fbe6da"/>
<rect x="286.75" y="1235.63" width="69.17" height="22.38" fill="#fbe6da"/>
<rect x="355.57" y="1235.63" width="68.82" height="22.38" fill="#3f8ec0"/>
<rect x="149.10" y="1257.66" width="69.17" height="22.38" fill="#b8d8e9"/>
<rect x="217.92" y="1257.66" width="69.17" height="22.38" fill="#d1e5f0"/>
<rect x="286.75" y="1257.66" width="69.17" height="22.38" fill="#67001f"/>
<rect x="355.57" y="1257.66" width="68.82" height="22.38" fill="#3c8abe"/>
<rect x="149.10" y="1279.69" width="69.17" height="22.38" fill="#e7f0f4"/>
<rect x="217.92" y="1279.69" width="69.17" height="22.38" fill="#d1e5f0"/>
<rect x="286.75" y="1279.69" width="69.17" height="22.38" fill="#f6af8e"/>
<rect x="355.57" y="1279.69" width="68.82" height="22.38" fill="#d4e6f1"/>
<rect x="149.10" y="1301.72" width="69.17" height="22.38" fill="#edf2f5"/>
<rect x="217.92" y="1301.72" width="69.17" height="22.38" fill="#98c8e0"/>
<rect x="286.75" y="1301.72" width="69.17" height="22.38" fill="#7c0722"/>
<rect x="355.57" y="1301.72" width="68.82" height="22.38" fill="#81bad8"/>
<rect x="149.10" y="1323.74" width="69.17" height="22.38" fill="#fbe4d6"/>
<rect x="217.92" y="1323.74" width="69.17" height="22.38" fill="#053061"/>
<rect x="286.75" y="1323.74" width="69.17" height="22.38" fill="#67001f"/>
<rect x="355.57" y="1323.74" width="68.82" height="22.38" fill="#59a1ca"/>
<rect x="149.10" y="1345.77" width="69.17" height="22.03" fill="#d6604d"/>
<rect x="217.92" y="1345.77" width="69.17" height="22.03" fill="#124984"/>
<rect x="286.75" y="1345.77" width="69.17" height="22.03" fill="#d25849"/>
<rect x="355.57" y="1345.77" width="68.82" height="22.03" fill="#98c8e0"/>
</g>
<text x="432.0" y="986.6" font-family="'Liberation Serif', serif" font-size="16.6" font-weight="normal" fill="#000" text-anchor="start" textLength="68.8" lengthAdjust="spacingAndGlyphs">Acetyl-Ser</text>
<line x1="425.4" y1="982.3" x2="427.1" y2="982.3" stroke="#555" stroke-width="0.7"/>
<text x="432.0" y="1009.5" font-family="'Liberation Serif', serif" font-size="16.6" font-weight="normal" fill="#000" text-anchor="start" textLength="51.4" lengthAdjust="spacingAndGlyphs">Ala-Ala</text>
<line x1="425.4" y1="1004.3" x2="427.1" y2="1004.3" stroke="#555" stroke-width="0.7"/>
<text x="432.0" y="1031.1" font-family="'Liberation Serif', serif" font-size="16.6" font-weight="normal" fill="#000" text-anchor="start" textLength="61.9" lengthAdjust="spacingAndGlyphs">Pyro-Glu</text>
<line x1="425.4" y1="1026.4" x2="427.1" y2="1026.4" stroke="#555" stroke-width="0.7"/>
<text x="432.0" y="1053.5" font-family="'Liberation Serif', serif" font-size="16.6" font-weight="normal" fill="#000" text-anchor="start" textLength="51.4" lengthAdjust="spacingAndGlyphs">Gly-Tyr</text>
<line x1="425.4" y1="1048.4" x2="427.1" y2="1048.4" stroke="#555" stroke-width="0.7"/>
<text x="432.0" y="1076.4" font-family="'Liberation Serif', serif" font-size="16.6" font-weight="normal" fill="#000" text-anchor="start" textLength="143.1" lengthAdjust="spacingAndGlyphs">N-fructosyl Pyro-Glu</text>
<line x1="425.4" y1="1070.4" x2="427.1" y2="1070.4" stroke="#555" stroke-width="0.7"/>
<text x="432.0" y="1098.8" font-family="'Liberation Serif', serif" font-size="16.6" font-weight="normal" fill="#000" text-anchor="start" textLength="90.5" lengthAdjust="spacingAndGlyphs">Cystathionine</text>
<line x1="425.4" y1="1092.5" x2="427.1" y2="1092.5" stroke="#555" stroke-width="0.7"/>
<text x="432.0" y="1119.5" font-family="'Liberation Serif', serif" font-size="16.6" font-weight="normal" fill="#000" text-anchor="start" textLength="92.7" lengthAdjust="spacingAndGlyphs">Pyro-Glu-Leu</text>
<line x1="425.4" y1="1114.5" x2="427.1" y2="1114.5" stroke="#555" stroke-width="0.7"/>
<text x="432.0" y="1140.6" font-family="'Liberation Serif', serif" font-size="16.6" font-weight="normal" fill="#000" text-anchor="start" textLength="73.4" lengthAdjust="spacingAndGlyphs">Acetyl-Asp</text>
<line x1="425.4" y1="1136.5" x2="427.1" y2="1136.5" stroke="#555" stroke-width="0.7"/>
<text x="432.0" y="1162.2" font-family="'Liberation Serif', serif" font-size="16.6" font-weight="normal" fill="#000" text-anchor="start" textLength="72.9" lengthAdjust="spacingAndGlyphs">Acetyl-Leu</text>
<line x1="425.4" y1="1158.5" x2="427.1" y2="1158.5" stroke="#555" stroke-width="0.7"/>
<text x="432.0" y="1182.4" font-family="'Liberation Serif', serif" font-size="16.6" font-weight="normal" fill="#000" text-anchor="start" textLength="139.0" lengthAdjust="spacingAndGlyphs">Hydroxycaproic acid</text>
<line x1="425.4" y1="1180.6" x2="427.1" y2="1180.6" stroke="#555" stroke-width="0.7"/>
<text x="432.0" y="1206.4" font-family="'Liberation Serif', serif" font-size="16.6" font-weight="normal" fill="#000" text-anchor="start" textLength="127.9" lengthAdjust="spacingAndGlyphs">Indole-3-acetyl-Ala</text>
<line x1="425.4" y1="1202.6" x2="427.1" y2="1202.6" stroke="#555" stroke-width="0.7"/>
<text x="432.0" y="1227.5" font-family="'Liberation Serif', serif" font-size="16.6" font-weight="normal" fill="#000" text-anchor="start" textLength="32.2" lengthAdjust="spacingAndGlyphs">GSH</text>
<line x1="425.4" y1="1224.6" x2="427.1" y2="1224.6" stroke="#555" stroke-width="0.7"/>
<text x="432.0" y="1249.8" font-family="'Liberation Serif', serif" font-size="16.6" font-weight="normal" fill="#000" text-anchor="start" textLength="85.0" lengthAdjust="spacingAndGlyphs">Glu-Val-Phe</text>
<line x1="425.4" y1="1246.6" x2="427.1" y2="1246.6" stroke="#555" stroke-width="0.7"/>
<text x="432.0" y="1271.8" font-family="'Liberation Serif', serif" font-size="16.6" font-weight="normal" fill="#000" text-anchor="start" textLength="53.6" lengthAdjust="spacingAndGlyphs">Ala-Leu</text>
<line x1="425.4" y1="1268.7" x2="427.1" y2="1268.7" stroke="#555" stroke-width="0.7"/>
<text x="432.0" y="1294.4" font-family="'Liberation Serif', serif" font-size="16.6" font-weight="normal" fill="#000" text-anchor="start" textLength="109.7" lengthAdjust="spacingAndGlyphs">Ophthalmic acid</text>
<line x1="425.4" y1="1290.7" x2="427.1" y2="1290.7" stroke="#555" stroke-width="0.7"/>
<text x="432.0" y="1319.1" font-family="'Liberation Serif', serif" font-size="16.6" font-weight="normal" fill="#000" text-anchor="start" textLength="38.6" lengthAdjust="spacingAndGlyphs">Ile-Ile</text>
<line x1="425.4" y1="1312.7" x2="427.1" y2="1312.7" stroke="#555" stroke-width="0.7"/>
<text x="432.0" y="1341.1" font-family="'Liberation Serif', serif" font-size="16.6" font-weight="normal" fill="#000" text-anchor="start" textLength="102.8" lengthAdjust="spacingAndGlyphs">GSH derivative</text>
<line x1="425.4" y1="1334.8" x2="427.1" y2="1334.8" stroke="#555" stroke-width="0.7"/>
<text x="432.0" y="1361.7" font-family="'Liberation Serif', serif" font-size="16.6" font-weight="normal" fill="#000" text-anchor="start" textLength="40.8" lengthAdjust="spacingAndGlyphs">GSSG</text>
<line x1="425.4" y1="1356.8" x2="427.1" y2="1356.8" stroke="#555" stroke-width="0.7"/>
<text x="62.3" y="996.0" font-family="'Liberation Sans', sans-serif" font-size="20.2" font-weight="bold" fill="#000" text-anchor="start" textLength="16.9" lengthAdjust="spacingAndGlyphs">E)</text>
<defs><linearGradient id="gE" x1="0" y1="0" x2="0" y2="1"><stop offset="0.00" stop-color="#67001f"/><stop offset="0.05" stop-color="#8a0b25"/><stop offset="0.10" stop-color="#b1182b"/><stop offset="0.15" stop-color="#c43b3c"/><stop offset="0.20" stop-color="#d6604d"/><stop offset="0.25" stop-color="#e48066"/><stop offset="0.30" stop-color="#f3a481"/><stop offset="0.35" stop-color="#f8bfa4"/><stop offset="0.40" stop-color="#fddbc7"/><stop offset="0.45" stop-color="#fae9df"/><stop offset="0.50" stop-color="#f7f6f6"/><stop offset="0.55" stop-color="#e4eef4"/><stop offset="0.60" stop-color="#d1e5f0"/><stop offset="0.65" stop-color="#b1d5e7"/><stop offset="0.70" stop-color="#90c4dd"/><stop offset="0.75" stop-color="#6bacd1"/><stop offset="0.80" stop-color="#4393c3"/><stop offset="0.85" stop-color="#327cb7"/><stop offset="0.90" stop-color="#2065ab"/><stop offset="0.95" stop-color="#124984"/><stop offset="1.00" stop-color="#053061"/></linearGradient></defs>
<rect x="10.5" y="1122.1" width="24.3" height="87.8" fill="url(#gE)"/>
<line x1="35.2" y1="1128.0" x2="37.7" y2="1128.0" stroke="#333" stroke-width="0.6"/>
<text x="39.8" y="1131.5" font-family="'DejaVu Sans', sans-serif" font-size="9.6" font-weight="normal" fill="#222" text-anchor="start">2</text>
<line x1="35.2" y1="1167.4" x2="37.7" y2="1167.4" stroke="#333" stroke-width="0.6"/>
<text x="39.8" y="1170.9" font-family="'DejaVu Sans', sans-serif" font-size="9.6" font-weight="normal" fill="#222" text-anchor="start">0</text>
<line x1="35.2" y1="1206.3" x2="37.7" y2="1206.3" stroke="#333" stroke-width="0.6"/>
<text x="39.8" y="1209.8" font-family="'DejaVu Sans', sans-serif" font-size="9.6" font-weight="normal" fill="#222" text-anchor="start">−2</text>
<text transform="translate(88.0 1168.8) rotate(-90)" font-family="'Liberation Serif', serif" font-size="23.2" fill="#111" text-anchor="middle" textLength="78.3" lengthAdjust="spacingAndGlyphs">Peptides</text>
<path d="M148.30,985.45 C142.30,985.55 137.15,986.05 133.55,987.15 Q130.15,988.05 130.15,991.05 L130.15,1169.63 M130.15,1179.23 L130.15,1357.80 Q130.15,1360.80 133.55,1361.70 C137.15,1362.80 142.30,1363.30 148.30,1363.40" fill="none" stroke="#000" stroke-width="2.4" stroke-linecap="butt" stroke-linejoin="round"/>
<path d="M128.95,1169.43 Q128.95,1171.73 125.75,1172.13 C121.15,1172.93 113.15,1173.38 103.60,1173.48 Q102.70,1173.53 102.70,1174.43 Q102.70,1175.33 103.60,1175.38 C113.15,1175.48 121.15,1175.93 125.75,1176.73 Q128.95,1177.13 128.95,1179.43 L131.35,1179.43 L131.35,1177.63 Q131.25,1175.33 126.95,1174.73 L123.65,1174.43 L126.95,1174.13 Q131.25,1173.53 131.35,1171.23 L131.35,1169.43 Z" fill="#000" stroke="none"/>
<line x1="182.8" y1="1367.2" x2="182.8" y2="1369.8" stroke="#444" stroke-width="0.7"/>
<line x1="252.1" y1="1367.2" x2="252.1" y2="1369.8" stroke="#444" stroke-width="0.7"/>
<line x1="320.7" y1="1367.2" x2="320.7" y2="1369.8" stroke="#444" stroke-width="0.7"/>
<line x1="390.0" y1="1367.2" x2="390.0" y2="1369.8" stroke="#444" stroke-width="0.7"/>
<text x="174.0" y="1394.2" font-family="'Liberation Sans', sans-serif" font-size="15" font-weight="normal" fill="#2e86c9" text-anchor="start" textLength="16.0" lengthAdjust="spacingAndGlyphs">16</text>
<text x="243.3" y="1394.2" font-family="'Liberation Sans', sans-serif" font-size="15" font-weight="normal" fill="#2e86c9" text-anchor="start" textLength="16.6" lengthAdjust="spacingAndGlyphs">37</text>
<text x="312.7" y="1394.2" font-family="'Liberation Sans', sans-serif" font-size="15" font-weight="normal" fill="#2e86c9" text-anchor="start" textLength="16.0" lengthAdjust="spacingAndGlyphs">16</text>
<text x="382.0" y="1394.2" font-family="'Liberation Sans', sans-serif" font-size="15" font-weight="normal" fill="#2e86c9" text-anchor="start" textLength="15.5" lengthAdjust="spacingAndGlyphs">37</text>
<line x1="175.9" y1="1400.0" x2="257.5" y2="1400.0" stroke="#f4a460" stroke-width="1.15"/>
<line x1="305.5" y1="1400.0" x2="402.0" y2="1400.0" stroke="#f4a460" stroke-width="1.15"/>
<text x="199.9" y="1420.0" font-family="'Liberation Sans', sans-serif" font-size="14.6" font-weight="normal" fill="#2e86c9" text-anchor="start" textLength="32.2" lengthAdjust="spacingAndGlyphs">BL21</text>
<text x="338.0" y="1420.0" font-family="'Liberation Sans', sans-serif" font-size="14.6" font-weight="normal" fill="#2e86c9" text-anchor="start" textLength="47.5" lengthAdjust="spacingAndGlyphs">SHuffle</text>
</g>
<g id="panelF">
<g>
<rect x="726.00" y="974.30" width="68.90" height="22.21" fill="#f9c6ac"/>
<rect x="794.55" y="974.30" width="68.90" height="22.21" fill="#7bb6d6"/>
<rect x="863.10" y="974.30" width="68.90" height="22.21" fill="#f19e7d"/>
<rect x="931.65" y="974.30" width="68.55" height="22.21" fill="#d8e9f1"/>
<rect x="726.00" y="996.16" width="68.90" height="22.21" fill="#fdddcb"/>
<rect x="794.55" y="996.16" width="68.90" height="22.21" fill="#e4eef4"/>
<rect x="863.10" y="996.16" width="68.90" height="22.21" fill="#f9efe9"/>
<rect x="931.65" y="996.16" width="68.55" height="22.21" fill="#f3f5f6"/>
<rect x="726.00" y="1018.02" width="68.90" height="22.21" fill="#ddebf2"/>
<rect x="794.55" y="1018.02" width="68.90" height="22.21" fill="#529dc8"/>
<rect x="863.10" y="1018.02" width="68.90" height="22.21" fill="#991027"/>
<rect x="931.65" y="1018.02" width="68.55" height="22.21" fill="#e4eef4"/>
<rect x="726.00" y="1039.88" width="68.90" height="22.21" fill="#c5dfec"/>
<rect x="794.55" y="1039.88" width="68.90" height="22.21" fill="#90c4dd"/>
<rect x="863.10" y="1039.88" width="68.90" height="22.21" fill="#cf5246"/>
<rect x="931.65" y="1039.88" width="68.55" height="22.21" fill="#fae9df"/>
<rect x="726.00" y="1061.74" width="68.90" height="22.21" fill="#f5aa89"/>
<rect x="794.55" y="1061.74" width="68.90" height="22.21" fill="#f5aa89"/>
<rect x="863.10" y="1061.74" width="68.90" height="22.21" fill="#fdddcb"/>
<rect x="931.65" y="1061.74" width="68.55" height="22.21" fill="#0a3b70"/>
<rect x="726.00" y="1083.61" width="68.90" height="22.21" fill="#1b5a9c"/>
<rect x="794.55" y="1083.61" width="68.90" height="22.21" fill="#b1d5e7"/>
<rect x="863.10" y="1083.61" width="68.90" height="22.21" fill="#bd2d35"/>
<rect x="931.65" y="1083.61" width="68.55" height="22.21" fill="#e48066"/>
<rect x="726.00" y="1105.47" width="68.90" height="22.21" fill="#f19e7d"/>
<rect x="794.55" y="1105.47" width="68.90" height="22.21" fill="#cf5246"/>
<rect x="863.10" y="1105.47" width="68.90" height="22.21" fill="#ee9677"/>
<rect x="931.65" y="1105.47" width="68.55" height="22.21" fill="#a5cee3"/>
<rect x="726.00" y="1127.33" width="68.90" height="22.21" fill="#f7f6f6"/>
<rect x="794.55" y="1127.33" width="68.90" height="22.21" fill="#e27b62"/>
<rect x="863.10" y="1127.33" width="68.90" height="22.21" fill="#bddbea"/>
<rect x="931.65" y="1127.33" width="68.55" height="22.21" fill="#d8e9f1"/>
<rect x="726.00" y="1149.19" width="68.90" height="22.21" fill="#f9efe9"/>
<rect x="794.55" y="1149.19" width="68.90" height="22.21" fill="#f8bb9e"/>
<rect x="863.10" y="1149.19" width="68.90" height="22.21" fill="#cae1ee"/>
<rect x="931.65" y="1149.19" width="68.55" height="22.21" fill="#eff3f5"/>
<rect x="726.00" y="1171.05" width="68.90" height="22.21" fill="#053061"/>
<rect x="794.55" y="1171.05" width="68.90" height="22.21" fill="#053061"/>
<rect x="863.10" y="1171.05" width="68.90" height="22.21" fill="#67001f"/>
<rect x="931.65" y="1171.05" width="68.55" height="22.21" fill="#67001f"/>
<rect x="726.00" y="1192.91" width="68.90" height="22.21" fill="#529dc8"/>
<rect x="794.55" y="1192.91" width="68.90" height="22.21" fill="#f5aa89"/>
<rect x="863.10" y="1192.91" width="68.90" height="22.21" fill="#f3f5f6"/>
<rect x="931.65" y="1192.91" width="68.55" height="22.21" fill="#6d0220"/>
<rect x="726.00" y="1214.77" width="68.90" height="22.21" fill="#f9ebe3"/>
<rect x="794.55" y="1214.77" width="68.90" height="22.21" fill="#fdddcb"/>
<rect x="863.10" y="1214.77" width="68.90" height="22.21" fill="#d1e5f0"/>
<rect x="931.65" y="1214.77" width="68.55" height="22.21" fill="#f8f1ed"/>
<rect x="726.00" y="1236.63" width="68.90" height="22.21" fill="#d4e6f1"/>
<rect x="794.55" y="1236.63" width="68.90" height="22.21" fill="#f7b596"/>
<rect x="863.10" y="1236.63" width="68.90" height="22.21" fill="#b8d8e9"/>
<rect x="931.65" y="1236.63" width="68.55" height="22.21" fill="#fdddcb"/>
<rect x="726.00" y="1258.49" width="68.90" height="22.21" fill="#f7b596"/>
<rect x="794.55" y="1258.49" width="68.90" height="22.21" fill="#facab1"/>
<rect x="863.10" y="1258.49" width="68.90" height="22.21" fill="#bddbea"/>
<rect x="931.65" y="1258.49" width="68.55" height="22.21" fill="#bddbea"/>
<rect x="726.00" y="1280.36" width="68.90" height="22.21" fill="#fbd0b9"/>
<rect x="794.55" y="1280.36" width="68.90" height="22.21" fill="#3c8abe"/>
<rect x="863.10" y="1280.36" width="68.90" height="22.21" fill="#f5aa89"/>
<rect x="931.65" y="1280.36" width="68.55" height="22.21" fill="#fbe4d6"/>
<rect x="726.00" y="1302.22" width="68.90" height="22.21" fill="#fbe4d6"/>
<rect x="794.55" y="1302.22" width="68.90" height="22.21" fill="#f9c6ac"/>
<rect x="863.10" y="1302.22" width="68.90" height="22.21" fill="#f9efe9"/>
<rect x="931.65" y="1302.22" width="68.55" height="22.21" fill="#90c4dd"/>
<rect x="726.00" y="1324.08" width="68.90" height="22.21" fill="#d1e5f0"/>
<rect x="794.55" y="1324.08" width="68.90" height="22.21" fill="#ab162a"/>
<rect x="863.10" y="1324.08" width="68.90" height="22.21" fill="#3480b9"/>
<rect x="931.65" y="1324.08" width="68.55" height="22.21" fill="#f19e7d"/>
<rect x="726.00" y="1345.94" width="68.90" height="21.86" fill="#fce0d0"/>
<rect x="794.55" y="1345.94" width="68.90" height="21.86" fill="#fce0d0"/>
<rect x="863.10" y="1345.94" width="68.90" height="21.86" fill="#b1d5e7"/>
<rect x="931.65" y="1345.94" width="68.55" height="21.86" fill="#f9efe9"/>
</g>
<text x="1010.2" y="989.9" font-family="'Liberation Serif', serif" font-size="16.6" font-weight="normal" fill="#000" text-anchor="start" textLength="142.6" lengthAdjust="spacingAndGlyphs">Glucose-1-Phosphate</text>
<line x1="1001.0" y1="985.2" x2="1002.7" y2="985.2" stroke="#555" stroke-width="0.7"/>
<text x="1010.2" y="1010.4" font-family="'Liberation Serif', serif" font-size="16.6" font-weight="normal" fill="#000" text-anchor="start" textLength="166.8" lengthAdjust="spacingAndGlyphs">Glucose-1,6-diphosphate</text>
<line x1="1001.0" y1="1007.1" x2="1002.7" y2="1007.1" stroke="#555" stroke-width="0.7"/>
<text x="1010.2" y="1035.5" font-family="'Liberation Serif', serif" font-size="16.6" font-weight="normal" fill="#000" text-anchor="start" textLength="136.2" lengthAdjust="spacingAndGlyphs">6-Phosphogluconate</text>
<line x1="1001.0" y1="1029.0" x2="1002.7" y2="1029.0" stroke="#555" stroke-width="0.7"/>
<text x="1010.2" y="1058.1" font-family="'Liberation Serif', serif" font-size="16.6" font-weight="normal" fill="#000" text-anchor="start" textLength="149.8" lengthAdjust="spacingAndGlyphs">Erythrose-4-phosphate</text>
<line x1="1001.0" y1="1050.8" x2="1002.7" y2="1050.8" stroke="#555" stroke-width="0.7"/>
<text x="1010.2" y="1078.3" font-family="'Liberation Serif', serif" font-size="16.6" font-weight="normal" fill="#000" text-anchor="start" textLength="145.8" lengthAdjust="spacingAndGlyphs">Ribulose-5-phosphate</text>
<line x1="1001.0" y1="1072.7" x2="1002.7" y2="1072.7" stroke="#555" stroke-width="0.7"/>
<text x="1010.2" y="1098.8" font-family="'Liberation Serif', serif" font-size="16.6" font-weight="normal" fill="#000" text-anchor="start" textLength="143.4" lengthAdjust="spacingAndGlyphs">Glycerol-3-phosphate</text>
<line x1="1001.0" y1="1094.5" x2="1002.7" y2="1094.5" stroke="#555" stroke-width="0.7"/>
<text x="1010.2" y="1123.2" font-family="'Liberation Serif', serif" font-size="16.6" font-weight="normal" fill="#000" text-anchor="start" textLength="145.2" lengthAdjust="spacingAndGlyphs">Xylulose-5-phosphate</text>
<line x1="1001.0" y1="1116.4" x2="1002.7" y2="1116.4" stroke="#555" stroke-width="0.7"/>
<text x="1010.2" y="1143.9" font-family="'Liberation Serif', serif" font-size="16.6" font-weight="normal" fill="#000" text-anchor="start" textLength="46.2" lengthAdjust="spacingAndGlyphs">3-PGA</text>
<line x1="1001.0" y1="1138.3" x2="1002.7" y2="1138.3" stroke="#555" stroke-width="0.7"/>
<text x="1010.2" y="1164.0" font-family="'Liberation Serif', serif" font-size="16.6" font-weight="normal" fill="#000" text-anchor="start" textLength="29.0" lengthAdjust="spacingAndGlyphs">PEP</text>
<line x1="1001.0" y1="1160.1" x2="1002.7" y2="1160.1" stroke="#555" stroke-width="0.7"/>
<text x="1010.2" y="1186.2" font-family="'Liberation Serif', serif" font-size="16.6" font-weight="normal" fill="#000" text-anchor="start" textLength="58.3" lengthAdjust="spacingAndGlyphs">Pyruvate</text>
<line x1="1001.0" y1="1182.0" x2="1002.7" y2="1182.0" stroke="#555" stroke-width="0.7"/>
<text x="1010.2" y="1209.5" font-family="'Liberation Serif', serif" font-size="16.6" font-weight="normal" fill="#000" text-anchor="start" textLength="80.7" lengthAdjust="spacingAndGlyphs">Acetyl co-A</text>
<line x1="1001.0" y1="1203.8" x2="1002.7" y2="1203.8" stroke="#555" stroke-width="0.7"/>
<text x="1010.2" y="1229.7" font-family="'Liberation Serif', serif" font-size="16.6" font-weight="normal" fill="#000" text-anchor="start" textLength="45.5" lengthAdjust="spacingAndGlyphs">Citrate</text>
<line x1="1001.0" y1="1225.7" x2="1002.7" y2="1225.7" stroke="#555" stroke-width="0.7"/>
<text x="1010.2" y="1251.3" font-family="'Liberation Serif', serif" font-size="16.6" font-weight="normal" fill="#000" text-anchor="start" textLength="45.5" lengthAdjust="spacingAndGlyphs">Malate</text>
<line x1="1001.0" y1="1247.6" x2="1002.7" y2="1247.6" stroke="#555" stroke-width="0.7"/>
<text x="1010.2" y="1274.2" font-family="'Liberation Serif', serif" font-size="16.6" font-weight="normal" fill="#000" text-anchor="start" textLength="63.8" lengthAdjust="spacingAndGlyphs">Succinate</text>
<line x1="1001.0" y1="1269.4" x2="1002.7" y2="1269.4" stroke="#555" stroke-width="0.7"/>
<text x="1010.2" y="1294.8" font-family="'Liberation Serif', serif" font-size="16.6" font-weight="normal" fill="#000" text-anchor="start" textLength="44.6" lengthAdjust="spacingAndGlyphs">GABA</text>
<line x1="1001.0" y1="1291.3" x2="1002.7" y2="1291.3" stroke="#555" stroke-width="0.7"/>
<text x="1010.2" y="1316.8" font-family="'Liberation Serif', serif" font-size="16.6" font-weight="normal" fill="#000" text-anchor="start" textLength="32.5" lengthAdjust="spacingAndGlyphs">FAD</text>
<line x1="1001.0" y1="1313.1" x2="1002.7" y2="1313.1" stroke="#555" stroke-width="0.7"/>
<text x="1010.2" y="1339.3" font-family="'Liberation Serif', serif" font-size="16.6" font-weight="normal" fill="#000" text-anchor="start" textLength="34.8" lengthAdjust="spacingAndGlyphs">NAD</text>
<line x1="1001.0" y1="1335.0" x2="1002.7" y2="1335.0" stroke="#555" stroke-width="0.7"/>
<text x="1010.2" y="1364.0" font-family="'Liberation Serif', serif" font-size="16.6" font-weight="normal" fill="#000" text-anchor="start" textLength="44.0" lengthAdjust="spacingAndGlyphs">NADP</text>
<line x1="1001.0" y1="1356.9" x2="1002.7" y2="1356.9" stroke="#555" stroke-width="0.7"/>
<text x="652.1" y="996.0" font-family="'Liberation Sans', sans-serif" font-size="20.2" font-weight="bold" fill="#000" text-anchor="start" textLength="16.2" lengthAdjust="spacingAndGlyphs">F)</text>
<defs><linearGradient id="gF" x1="0" y1="0" x2="0" y2="1"><stop offset="0.00" stop-color="#67001f"/><stop offset="0.05" stop-color="#8a0b25"/><stop offset="0.10" stop-color="#b1182b"/><stop offset="0.15" stop-color="#c43b3c"/><stop offset="0.20" stop-color="#d6604d"/><stop offset="0.25" stop-color="#e48066"/><stop offset="0.30" stop-color="#f3a481"/><stop offset="0.35" stop-color="#f8bfa4"/><stop offset="0.40" stop-color="#fddbc7"/><stop offset="0.45" stop-color="#fae9df"/><stop offset="0.50" stop-color="#f7f6f6"/><stop offset="0.55" stop-color="#e4eef4"/><stop offset="0.60" stop-color="#d1e5f0"/><stop offset="0.65" stop-color="#b1d5e7"/><stop offset="0.70" stop-color="#90c4dd"/><stop offset="0.75" stop-color="#6bacd1"/><stop offset="0.80" stop-color="#4393c3"/><stop offset="0.85" stop-color="#327cb7"/><stop offset="0.90" stop-color="#2065ab"/><stop offset="0.95" stop-color="#124984"/><stop offset="1.00" stop-color="#053061"/></linearGradient></defs>
<rect x="598.8" y="1135.9" width="25.1" height="81.1" fill="url(#gF)"/>
<line x1="624.3" y1="1146.0" x2="626.8" y2="1146.0" stroke="#333" stroke-width="0.6"/>
<text x="629.2" y="1149.4" font-family="'DejaVu Sans', sans-serif" font-size="9.2" font-weight="normal" fill="#222" text-anchor="start">1</text>
<line x1="624.3" y1="1175.3" x2="626.8" y2="1175.3" stroke="#333" stroke-width="0.6"/>
<text x="629.2" y="1178.7" font-family="'DejaVu Sans', sans-serif" font-size="9.2" font-weight="normal" fill="#222" text-anchor="start">0</text>
<line x1="624.3" y1="1205.0" x2="626.8" y2="1205.0" stroke="#333" stroke-width="0.6"/>
<text x="629.2" y="1208.4" font-family="'DejaVu Sans', sans-serif" font-size="9.2" font-weight="normal" fill="#222" text-anchor="start">−1</text>
<text transform="translate(670.6 1177.5) rotate(-90)" font-family="'Liberation Serif', serif" font-size="23.4" fill="#111" text-anchor="middle" textLength="195.0" lengthAdjust="spacingAndGlyphs">Pathway metabolites</text>
<path d="M724.30,985.55 C718.30,985.65 713.20,986.15 709.60,987.25 Q706.20,988.15 706.20,991.15 L706.20,1167.23 M706.20,1176.83 L706.20,1352.90 Q706.20,1355.90 709.60,1356.80 C713.20,1357.90 718.30,1358.40 724.30,1358.50" fill="none" stroke="#000" stroke-width="2.4" stroke-linecap="butt" stroke-linejoin="round"/>
<path d="M705.00,1167.03 Q705.00,1169.33 701.80,1169.73 C697.20,1170.53 689.20,1170.98 679.80,1171.08 Q678.90,1171.12 678.90,1172.03 Q678.90,1172.93 679.80,1172.98 C689.20,1173.08 697.20,1173.53 701.80,1174.33 Q705.00,1174.73 705.00,1177.03 L707.40,1177.03 L707.40,1175.23 Q707.30,1172.93 703.00,1172.33 L699.70,1172.03 L703.00,1171.73 Q707.30,1171.12 707.40,1168.83 L707.40,1167.03 Z" fill="#000" stroke="none"/>
<line x1="760.5" y1="1367.8" x2="760.5" y2="1370.4" stroke="#444" stroke-width="0.7"/>
<line x1="829.0" y1="1367.8" x2="829.0" y2="1370.4" stroke="#444" stroke-width="0.7"/>
<line x1="897.6" y1="1367.8" x2="897.6" y2="1370.4" stroke="#444" stroke-width="0.7"/>
<line x1="965.9" y1="1367.8" x2="965.9" y2="1370.4" stroke="#444" stroke-width="0.7"/>
<text x="752.5" y="1394.2" font-family="'Liberation Sans', sans-serif" font-size="15" font-weight="normal" fill="#2e86c9" text-anchor="start" textLength="16.3" lengthAdjust="spacingAndGlyphs">16</text>
<text x="821.3" y="1394.2" font-family="'Liberation Sans', sans-serif" font-size="15" font-weight="normal" fill="#2e86c9" text-anchor="start" textLength="16.8" lengthAdjust="spacingAndGlyphs">37</text>
<text x="890.7" y="1394.2" font-family="'Liberation Sans', sans-serif" font-size="15" font-weight="normal" fill="#2e86c9" text-anchor="start" textLength="16.8" lengthAdjust="spacingAndGlyphs">16</text>
<text x="960.0" y="1394.2" font-family="'Liberation Sans', sans-serif" font-size="15" font-weight="normal" fill="#2e86c9" text-anchor="start" textLength="16.0" lengthAdjust="spacingAndGlyphs">37</text>
<line x1="753.3" y1="1400.0" x2="835.2" y2="1400.0" stroke="#f4a460" stroke-width="1.15"/>
<line x1="883.5" y1="1400.0" x2="980.0" y2="1400.0" stroke="#f4a460" stroke-width="1.15"/>
<text x="778.1" y="1420.0" font-family="'Liberation Sans', sans-serif" font-size="14.6" font-weight="normal" fill="#2e86c9" text-anchor="start" textLength="32.0" lengthAdjust="spacingAndGlyphs">BL21</text>
<text x="916.5" y="1420.0" font-family="'Liberation Sans', sans-serif" font-size="14.6" font-weight="normal" fill="#2e86c9" text-anchor="start" textLength="47.5" lengthAdjust="spacingAndGlyphs">SHuffle</text>
</g>
</svg>
</body>
</html>
